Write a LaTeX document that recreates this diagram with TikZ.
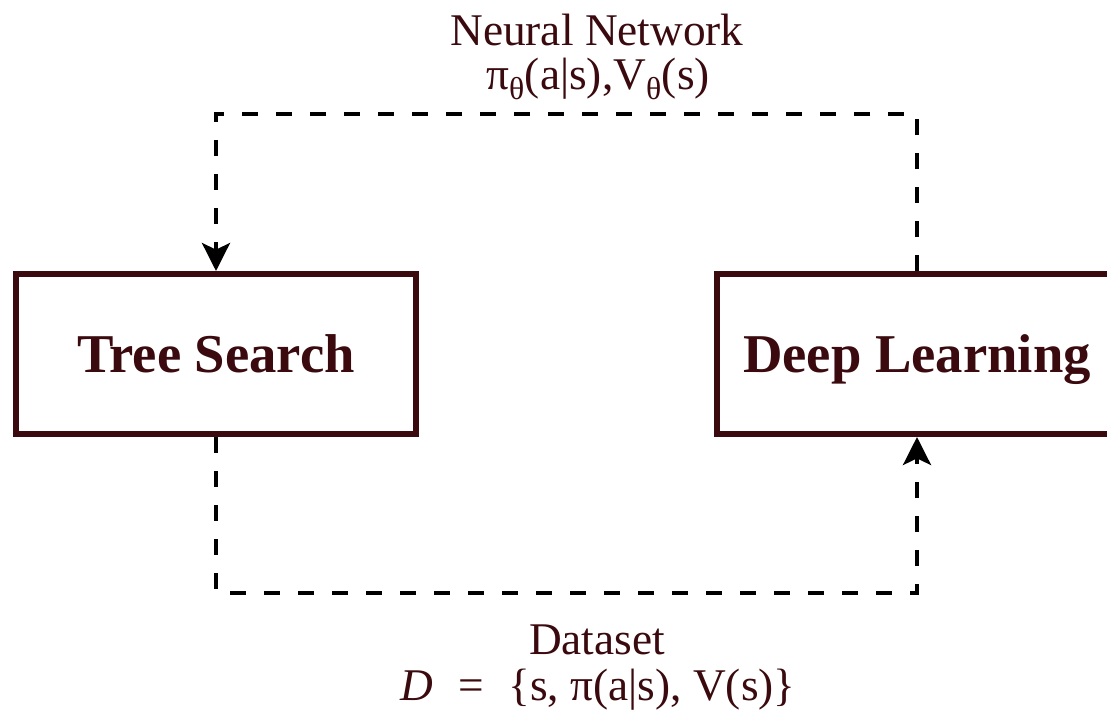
\documentclass[tikz,border=0pt]{standalone}
\usepackage{fontspec}
\setmainfont{Liberation Serif}
\usetikzlibrary{arrows.meta}
\definecolor{LoopMaroon}{HTML}{3A0A0E}

\begin{document}
\begin{tikzpicture}[x=0.75pt,y=-0.75pt,
    stagebox/.style={
      draw=LoopMaroon,
      line width=4.5pt,
      minimum width=300pt,
      minimum height=120pt,
      text height=27pt,
      text depth=0pt,
      text=LoopMaroon,
      font=\fontsize{41}{48}\selectfont\bfseries
    },
    flowline/.style={
      draw=black,
      line width=3pt,
      dash pattern=on 12pt off 13.5pt,
      -{Stealth[length=21pt,width=21pt,inset=5pt]}
    },
    caption/.style={
      text=LoopMaroon,
      inner sep=0pt,
      font=\fontsize{34}{40}\selectfont
    }
  ]
    \clip (0,0) rectangle (1107,719);
    \useasboundingbox (0,0) rectangle (1107,719);

    \node[stagebox] (search) at (216,354) {Tree Search};
    \node[stagebox] (learning) at (917,354) {Deep Learning};

    \coordinate (topturn) at (566,114);
    \coordinate (bottomturn) at (566,593);

    \draw[flowline] (learning.north) |- (topturn) -| (search.north);
    \draw[flowline] (search.south) |- (bottomturn) -| (learning.south);

    \node[caption] (nnname) at (597,30) {Neural Network};
    \node[caption] (nnformula) at (598,79)
      {π\textsubscript{θ}(a|s),V\textsubscript{θ}(s)};
    \node[caption] (dsname) at (597,640) {Dataset};
    \node[caption] (dsformula) at (598,690)
      {\textit{D}\hspace{0.55em}=\hspace{0.55em}\{s, π(a|s), V(s)\}};
  \end{tikzpicture}
\end{document}
